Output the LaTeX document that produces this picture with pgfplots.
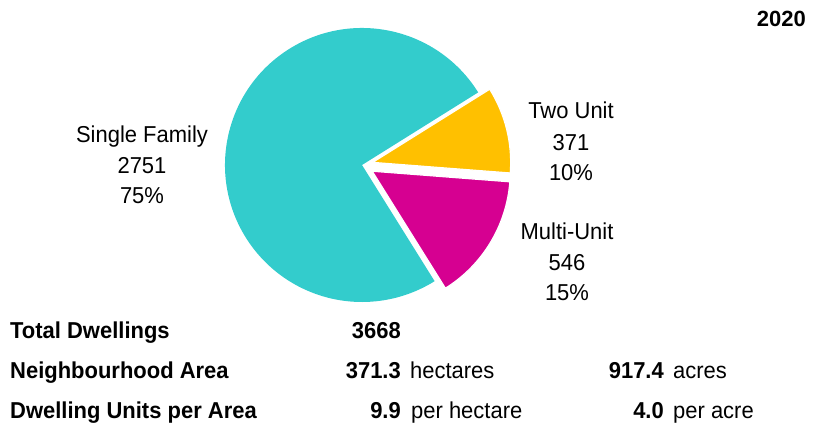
\documentclass[border=0pt]{standalone}
\usepackage{pgfplots}
\pgfplotsset{compat=1.18}
\usepackage{fontspec}
\setmainfont{Liberation Sans}[FakeStretch=0.955]
\newfontfamily\widefont{Liberation Sans}
\definecolor{cSingle}{HTML}{33CCCC}
\definecolor{cTwo}{HTML}{FFC000}
\definecolor{cMulti}{HTML}{D60091}
% data
\def\nSingle{2751}
\def\nTwo{371}
\def\nMulti{546}
\pgfmathsetmacro{\nTotal}{\nSingle+\nTwo+\nMulti}
\pgfmathsetmacro{\aStart}{32}
\pgfmathsetmacro{\aTwoEnd}{\aStart-360*(\nTwo/\nTotal)}
\pgfmathsetmacro{\aMultiEnd}{\aTwoEnd-360*(\nMulti/\nTotal)}
\pgfmathsetmacro{\aTwoMid}{(\aStart+\aTwoEnd)/2}
\pgfmathsetmacro{\aMultiMid}{(\aTwoEnd+\aMultiEnd)/2}
\begin{document}
\begin{tikzpicture}
\begin{axis}[width=824bp,height=430bp,scale only axis,
  xmin=0,xmax=824,ymin=0,ymax=430,axis lines=none,clip=false]
\path[draw=none] (axis cs:0,0) rectangle (axis cs:824,430);
% Single family
\fill[cSingle] (axis cs:362,265) -- ++(\aStart:137bp) arc[start angle=\aStart, end angle=\aMultiEnd+360, radius=137bp] -- cycle;
% Two unit (exploded)
\fill[cTwo,draw=white,line width=1.2bp] (axis cs:362,265) ++(\aTwoMid:11bp) -- ++(\aStart:138bp) arc[start angle=\aStart, end angle=\aTwoEnd, radius=138bp] -- cycle;
% Multi unit (exploded)
\fill[cMulti,draw=white,line width=1.2bp] (axis cs:362,265) ++(\aMultiMid:12bp) -- ++(\aTwoEnd:138bp) arc[start angle=\aTwoEnd, end angle=\aMultiEnd, radius=138bp] -- cycle;
\tikzset{lab/.style={anchor=base,inner sep=0pt,font=\fontsize{23bp}{26bp}\selectfont}}
\node[lab] at (axis cs:142,288) {Single Family};
\node[lab] at (axis cs:142,257) {2751};
\node[lab] at (axis cs:142,227) {75\%};
\node[lab] at (axis cs:571,312) {Two Unit};
\node[lab] at (axis cs:571,280) {371};
\node[lab] at (axis cs:571,250) {10\%};
\node[lab] at (axis cs:567,191) {Multi-Unit};
\node[lab] at (axis cs:567,160) {546};
\node[lab] at (axis cs:567,130) {15\%};
\node[anchor=base east,inner sep=0pt,font=\widefont\bfseries\fontsize{22bp}{24bp}\selectfont] at (axis cs:806,403) {2020};
\tikzset{row/.style={font=\fontsize{23bp}{26bp}\selectfont,inner sep=0pt}}
\node[row,anchor=base west] at (axis cs:10,92) {\bfseries Total Dwellings};
\node[row,anchor=base east] at (axis cs:401,92) {\bfseries 3668};
\node[row,anchor=base west] at (axis cs:10,52) {\bfseries Neighbourhood Area};
\node[row,anchor=base east] at (axis cs:401,52) {\bfseries 371.3};
\node[row,anchor=base west] at (axis cs:410,52) {hectares};
\node[row,anchor=base east] at (axis cs:664,52) {\bfseries 917.4};
\node[row,anchor=base west] at (axis cs:673,52) {acres};
\node[row,anchor=base west] at (axis cs:10,12) {\bfseries Dwelling Units per Area};
\node[row,anchor=base east] at (axis cs:401,12) {\bfseries 9.9};
\node[row,anchor=base west] at (axis cs:411,12) {per hectare};
\node[row,anchor=base east] at (axis cs:664,12) {\bfseries 4.0};
\node[row,anchor=base west] at (axis cs:673,12) {per acre};
\end{axis}
\end{tikzpicture}
\end{document}
